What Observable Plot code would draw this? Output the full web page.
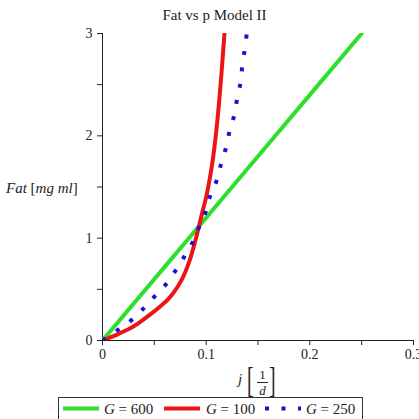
<!DOCTYPE html>
<html>
<head>
<meta charset="utf-8">
<script src="https://cdn.jsdelivr.net/npm/d3@7"></script>
<script src="https://cdn.jsdelivr.net/npm/@observablehq/plot@0.6"></script>
<style>
  html, body { margin: 0; padding: 0; background: #fff; }
  #wrap { position: relative; width: 419px; height: 419px; overflow: hidden; background: #fff;
          font-family: "Liberation Serif", "Times New Roman", serif; color: #222; }
  #title { position: absolute; left: 5px; top: 2px; width: 419px; line-height: 26px; text-align: center; font-size: 15px; }
  #chart { position: absolute; left: 0; top: 26px; }
  #legend { position: absolute; left: 58px; top: 397px; width: 303px; height: 26px; border: 1px solid #333; background: #fff; }
  #legend .sw { position: absolute; top: 0; }
  #legend .lt { position: absolute; top: 3px; font-size: 15px; line-height: 17px; white-space: nowrap; }
</style>
</head>
<body>
<div id="wrap">
  <div id="title">Fat vs p Model II</div>
  <div id="chart"></div>
  <div id="legend"></div>
</div>
<script>
// ---- data ----
const seriesNames = ["G = 600", "G = 100", "G = 250"];
const seriesColors = ["#2ee02e", "#ec1414", "#1414d2"];

const jGreen   = [0, 0.05, 0.1, 0.15, 0.2, 0.25];
const fatGreen = [0, 0.6, 1.2, 1.8, 2.4, 3.0];

const jRed   = [0, 0.0145, 0.0277, 0.0362, 0.0455, 0.0556, 0.0625, 0.0684, 0.0765, 0.084, 0.0889, 0.0926, 0.0965, 0.1004, 0.106, 0.110, 0.113, 0.1156, 0.118];
const fatRed = [0, 0.06, 0.124, 0.18, 0.25, 0.333, 0.395, 0.465, 0.595, 0.78, 0.95, 1.10, 1.26, 1.42, 1.74, 2.07, 2.39, 2.72, 3.05];

const jBlue   = [0, 0.0128, 0.0257, 0.037, 0.0484, 0.0597, 0.0696, 0.0777, 0.0864, 0.0928, 0.0993, 0.1039, 0.110, 0.1145, 0.119, 0.1225, 0.127, 0.130, 0.1335, 0.135, 0.1377, 0.1393];
const fatBlue = [0, 0.09, 0.18, 0.287, 0.41, 0.53, 0.67, 0.80, 0.95, 1.10, 1.25, 1.415, 1.56, 1.73, 1.88, 2.04, 2.20, 2.37, 2.54, 2.71, 2.87, 3.02];

const xTicks = [0, 0.05, 0.1, 0.15, 0.2, 0.25, 0.3];
const xTickLabels = ["0", "", "0.1", "", "0.2", "", "0.3"];
const yTicks = [0, 0.5, 1, 1.5, 2, 2.5, 3];
const yTickLabels = ["0", "", "1", "", "2", "", "3"];

const toRows = (xs, ys) => xs.map((x, i) => ({j: x, fat: ys[i]}));
const green = toRows(jGreen, fatGreen);
const red = toRows(jRed, fatRed);
const blue = toRows(jBlue, fatBlue);

const chart = Plot.plot({
  width: 419,
  height: 370,
  marginTop: 7,
  marginBottom: 56,
  marginLeft: 102,
  marginRight: 6,
  style: {fontFamily: "'Liberation Serif', 'Times New Roman', serif", fontSize: "14px", color: "#222", background: "white", overflow: "visible"},
  x: {domain: [0, 0.3]},
  y: {domain: [0, 3]},
  marks: [
    Plot.axisX({ticks: xTicks, tickFormat: d => xTickLabels[xTicks.indexOf(d)], tickSize: 5, tickPadding: 4, label: null}),
    Plot.axisY({ticks: yTicks, tickFormat: d => yTickLabels[yTicks.indexOf(d)], tickSize: 5, tickPadding: 5, label: null}),
    Plot.ruleX([0], {y1: 0, y2: 3, stroke: "#222"}),
    Plot.ruleY([0], {x1: 0, x2: 0.3, stroke: "#222"}),
    Plot.line(green, {x: "j", y: "fat", stroke: seriesColors[0], strokeWidth: 4, clip: true}),
    Plot.line(red, {x: "j", y: "fat", stroke: seriesColors[1], strokeWidth: 4, curve: "catmull-rom", clip: true}),
    Plot.line(blue, {x: "j", y: "fat", stroke: seriesColors[2], strokeWidth: 4, curve: "catmull-rom", strokeDasharray: "4,12.5", strokeLinecap: "butt", clip: true})
  ]
});
document.getElementById("chart").appendChild(chart);

// axis labels (text, positioned relative to the plot svg)
const svg = d3.select(chart);
const ylab = svg.append("text").attr("x", 6).attr("y", 167).attr("font-size", 15).attr("text-anchor", "start").attr("fill", "#222");
ylab.append("tspan").attr("font-style", "italic").text("Fat");
ylab.append("tspan").text(" [");
ylab.append("tspan").attr("font-style", "italic").text("mg ml");
ylab.append("tspan").text("]");

const xl = svg.append("g").attr("fill", "#222").attr("text-anchor", "start");
xl.append("text").attr("x", 238).attr("y", 358).attr("font-size", 15).attr("font-style", "italic").text("j");
xl.append("text").attr("x", 247).attr("y", 366).attr("font-size", 36).attr("transform", "translate(247,0) scale(0.55,1) translate(-247,0)").text("[");
xl.append("text").attr("x", 262.5).attr("y", 353).attr("font-size", 13).attr("text-anchor", "middle").text("1");
xl.append("line").attr("x1", 257).attr("x2", 268).attr("y1", 356.5).attr("y2", 356.5).attr("stroke", "#222").attr("stroke-width", 1);
xl.append("text").attr("x", 262.5).attr("y", 369).attr("font-size", 13).attr("font-style", "italic").attr("text-anchor", "middle").text("d");
xl.append("text").attr("x", 269).attr("y", 366).attr("font-size", 36).attr("transform", "translate(269,0) scale(0.55,1) translate(-269,0)").text("]");

// legend
const legend = d3.select("#legend");
const swLeft = [4, 105, 206];
const txLeft = [45, 147, 247];
seriesNames.forEach((name, i) => {
  const s = legend.append("svg").attr("class", "sw").attr("width", 36).attr("height", 22).style("left", swLeft[i] + "px");
  const ln = s.append("line").attr("x1", 0).attr("x2", 36).attr("y1", 10.5).attr("y2", 10.5)
    .attr("stroke", seriesColors[i]).attr("stroke-width", 4);
  if (i === 2) ln.attr("stroke-dasharray", "4,12.5");
  const t = legend.append("div").attr("class", "lt").style("left", txLeft[i] + "px");
  t.append("i").text("G");
  t.append("span").text(name.slice(1));
});
</script>
</body>
</html>
